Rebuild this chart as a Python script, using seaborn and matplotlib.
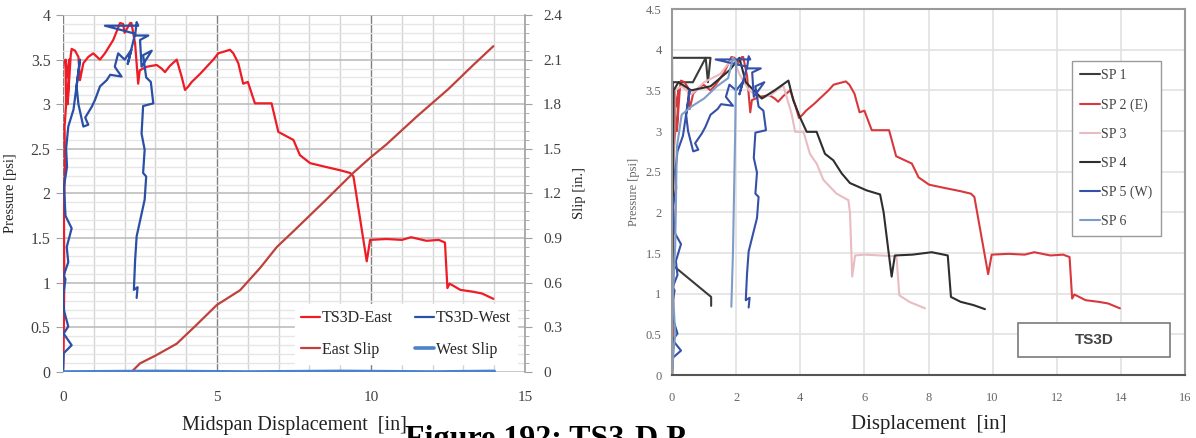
import matplotlib
matplotlib.use("Agg")
import matplotlib.pyplot as plt
import seaborn as sns
import pandas as pd
from matplotlib.ticker import MultipleLocator
from matplotlib.patches import Rectangle

# ---- data ----
# TS3D-East / SP 2 (E): pressure [psi] vs midspan displacement [in]
east_x = [0, 0.02, 0.04, 0.03, 0.06, 0.05, 0.1, 0.08, 0.12, 0.2, 0.15, 0.25, 0.28, 0.39,
          0.5, 0.55, 0.66, 0.82, 0.98, 1.2, 1.36, 1.63, 1.85, 1.95, 2.0, 2.18, 2.22, 2.34,
          2.44, 2.49, 2.72, 3.04, 3.2, 3.31, 3.47, 3.69, 3.85, 3.96, 4.07, 4.18, 4.45,
          4.88, 5.04, 5.42, 5.53, 5.69, 5.85, 6.0, 6.23, 6.77, 6.99, 7.37, 7.48, 7.69,
          8.02, 8.5, 9.0, 9.32, 9.43, 9.86, 9.97, 10.5, 11.0, 11.3, 11.8, 12.2, 12.4,
          12.48, 12.55, 12.9, 13.3, 13.6, 13.97]
east_p = [0, 0.3, 1.0, 1.8, 2.3, 2.75, 3.0, 3.5, 3.3, 3.5, 3.0, 3.55, 3.62, 3.6,
          3.53, 3.27, 3.46, 3.53, 3.57, 3.5, 3.57, 3.72, 3.91, 3.9, 3.8, 3.91, 3.91, 3.68,
          3.23, 3.38, 3.42, 3.44, 3.4, 3.36, 3.43, 3.5, 3.31, 3.16, 3.2, 3.25, 3.34,
          3.5, 3.57, 3.61, 3.57, 3.46, 3.23, 3.25, 3.01, 3.01, 2.69, 2.62, 2.6, 2.43,
          2.34, 2.3, 2.26, 2.23, 2.19, 1.24, 1.48, 1.49, 1.48, 1.51, 1.47, 1.48, 1.45,
          0.94, 0.99, 0.92, 0.9, 0.88, 0.82]

# TS3D-West / SP 5 (W)
west_x = [0, 0.02, 0.28, 0.02, 0.17, 0.03, 0.0, 0.08, 0.02, 0.17, 0.12, 0.28, 0.08, 0.03,
          0.13, 0.1, 0.17, 0.34, 0.55, 0.44, 0.5, 0.66, 0.82, 0.72, 0.93, 1.04, 1.2, 1.42,
          1.53, 1.9, 1.68, 1.79, 2.0, 2.22, 2.1, 2.34, 1.36, 2.44, 2.39, 2.34, 2.77, 2.5,
          2.55, 2.88, 2.6, 2.7, 2.85, 2.93, 2.6, 2.55, 2.65, 2.6, 2.7, 2.65, 2.39, 2.34,
          2.3, 2.42, 2.39]
west_p = [0, 0.21, 0.3, 0.43, 0.51, 0.69, 0.85, 1.04, 1.08, 1.23, 1.4, 1.61, 1.75, 2.08,
          2.3, 2.5, 2.75, 2.94, 3.5, 3.2, 3.0, 2.75, 2.77, 2.85, 2.97, 3.05, 3.2, 3.27,
          3.33, 3.31, 3.42, 3.57, 3.5, 3.61, 3.45, 3.79, 3.88, 3.88, 3.92, 3.77, 3.77, 3.72,
          3.42, 3.6, 3.55, 3.3, 3.25, 3.01, 2.98, 2.67, 2.49, 2.23, 2.19, 1.93, 1.52, 1.25,
          0.92, 0.95, 0.83]

# slips [in.]
east_slip_x = [0, 2.22, 2.5, 3.0, 3.69, 4.3, 4.99, 5.75, 6.4, 6.94, 7.5, 8.5, 9.43, 9.97,
               10.5, 11.5, 12.5, 13.3, 13.97]
east_slip = [0, 0, 0.058, 0.11, 0.19, 0.31, 0.45, 0.55, 0.7, 0.84, 0.95, 1.15, 1.34, 1.44,
             1.53, 1.72, 1.9, 2.06, 2.19]
west_slip_x = [0, 3, 6, 9, 12, 14]
west_slip = [0.0, 0.004, 0.0, 0.004, 0.0, 0.004]

# other string pots (right panel)
sp1_x = [0, 0.02, 0.65, 1.05, 1.12, 1.2, 0.0, 0.02, 1.22, 1.22]
sp1_p = [0, 3.6, 3.6, 3.9, 3.6, 3.9, 3.9, 1.35, 0.96, 0.85]
sp3_x = [0, 0.05, 0.08, 0.3, 0.6, 1.0, 1.5, 1.9, 2.1, 2.4, 2.8, 3.1, 3.47, 3.73, 3.84,
         4.1, 4.3, 4.51, 4.72, 5.13, 5.5, 5.55, 5.62, 5.71, 6.0, 6.5, 7.0, 7.09, 7.4, 7.89]
sp3_p = [0, 2.0, 3.5, 3.55, 3.45, 3.6, 3.7, 3.9, 3.7, 3.5, 3.4, 3.45, 3.56, 3.21, 2.99,
         2.99, 2.72, 2.6, 2.4, 2.23, 2.15, 2.0, 1.21, 1.47, 1.48, 1.47, 1.46, 0.98, 0.9, 0.82]
sp4_x = [0, 0.05, 0.2, 0.6, 1.2, 1.8, 2.1, 2.3, 2.8, 3.2, 3.63, 3.78, 3.99, 4.2, 4.51,
         4.77, 5.03, 5.29, 5.55, 6.07, 6.49, 6.6, 6.85, 6.95, 7.5, 8.1, 8.6, 8.7, 9.0, 9.4, 9.76]
sp4_p = [0, 3.5, 3.6, 3.5, 3.55, 3.75, 3.9, 3.6, 3.4, 3.5, 3.62, 3.38, 3.17, 2.99, 2.99,
         2.72, 2.64, 2.48, 2.36, 2.27, 2.22, 2.0, 1.21, 1.47, 1.48, 1.51, 1.47, 0.96, 0.9, 0.86, 0.81]
sp6_x = [0, 0.05, 0.1, 0.03, 0.1, 0.15, 0.3, 0.6, 1.0, 1.4, 1.75, 1.9, 2.0, 1.97, 1.9, 1.85]
sp6_p = [0, 0.3, 0.5, 1.0, 1.6, 2.8, 3.2, 3.3, 3.4, 3.55, 3.65, 3.9, 3.85, 3.0, 1.5, 0.84]

left_labels = ["TS3D-East", "TS3D-West", "East Slip", "West Slip"]
right_labels = ["SP 1", "SP 2 (E)", "SP 3", "SP 4", "SP 5 (W)", "SP 6"]

sns.set_style("white")
plt.rcParams["font.family"] = ["Liberation Serif", "DejaVu Serif"]

fig = plt.figure(figsize=(11.96, 4.38), dpi=100)


def draw(ax, x, y, color, label, lw=1.6, z=2):
    df = pd.DataFrame({"x": x, "y": y})
    sns.lineplot(data=df, x="x", y="y", ax=ax, sort=False, estimator=None,
                 color=color, lw=lw, label=label, zorder=z)


# ---------------- left panel ----------------
ax = fig.add_axes([0.0527, 0.1507, 0.3863, 0.8151])
ax2 = ax.twinx()
draw(ax, east_x, east_p, "#ee1c25", left_labels[0], z=3)
draw(ax, west_x, west_p, "#2a4fa6", left_labels[1], z=3)
draw(ax2, east_slip_x, east_slip, "#c0413c", left_labels[2])
draw(ax2, west_slip_x, west_slip, "#4a82cc", left_labels[3], lw=2.6)

ax.set_xlim(0, 15)
ax.set_ylim(0, 4)
ax2.set_ylim(0, 2.4)
ax.xaxis.set_major_locator(MultipleLocator(5))
ax.xaxis.set_minor_locator(MultipleLocator(1))
ax.yaxis.set_major_locator(MultipleLocator(0.5))
ax.yaxis.set_minor_locator(MultipleLocator(0.1))
ax2.yaxis.set_major_locator(MultipleLocator(0.3))
ax2.yaxis.set_minor_locator(MultipleLocator(0.06))
ax.yaxis.set_major_formatter(lambda v, p: f"{v:g}")
ax2.yaxis.set_major_formatter(lambda v, p: f"{v:g}")

ax.grid(True, which="minor", axis="x", color="#d4d4d4", lw=1.0)
ax.grid(True, which="major", axis="x", color="#808080", lw=1.0)
ax.grid(True, which="minor", axis="y", color="#e6e6e6", lw=1.0)
ax.grid(True, which="major", axis="y", color="#bdbdbd", lw=1.2)
ax.set_axisbelow(True)
for a in (ax, ax2):
    for s in ["top", "bottom", "left"]:
        a.spines[s].set_visible(False)
ax.spines["right"].set_visible(False)
ax2.spines["right"].set_color("#a0a0a0")
ax2.spines["right"].set_linewidth(1.2)
ax.tick_params(axis="x", which="both", length=0, labelsize=11, colors="#404040", pad=14)
ax.tick_params(axis="y", which="major", length=5, color="#a0a0a0", labelsize=11.5,
               colors="#404040", pad=4)
ax.tick_params(axis="y", which="minor", length=0)
ax2.tick_params(axis="y", which="major", length=5, color="#a0a0a0", labelsize=11,
                labelcolor="#404040", pad=8)
ax2.tick_params(axis="y", which="minor", length=3, color="#a0a0a0")
ax.set_xlabel("Midspan Displacement  [in]", fontsize=14.5, color="#222222", labelpad=8)
ax.set_ylabel("Pressure [psi]", fontsize=10.5, color="#222222", labelpad=10)
ax2.set_ylabel("Slip [in.]", fontsize=10.5, color="#222222", labelpad=8)

# the x = 0 grid line is a light one in the reference, only 5 and 10 are dark
fig.canvas.draw()
ax.xaxis.get_gridlines()[0].set_color("#d4d4d4")

h1, l1 = ax.get_legend_handles_labels()
h2, l2 = ax2.get_legend_handles_labels()
ax.get_legend().remove()
ax2.get_legend().remove()
ax2.legend([h1[0], h2[0], h1[1], h2[1]], [l1[0], l2[0], l1[1], l2[1]], ncol=2,
           loc="lower right", bbox_to_anchor=(1.0, 0.0), frameon=True, fancybox=False,
           framealpha=1, edgecolor="white", fontsize=11.5, handlelength=1.2,
           handletextpad=0.1, columnspacing=1.4, labelspacing=0.95, borderpad=0.4)

# ---------------- right panel ----------------
bx = fig.add_axes([0.5619, 0.1438, 0.4289, 0.8356])
right_series = [(sp1_x, sp1_p, "#3b3b3b"), (east_x, east_p, "#d8383c"),
                (sp3_x, sp3_p, "#e8bcc0"), (sp4_x, sp4_p, "#2e2e2e"),
                (west_x, west_p, "#3450a8"), (sp6_x, sp6_p, "#7d9cc7")]
for (xs, ps, c), lab in zip(right_series, right_labels):
    draw(bx, xs, ps, c, lab, lw=1.5)
bx.set_xlim(0, 16)
bx.set_ylim(0, 4.5)
bx.xaxis.set_major_locator(MultipleLocator(2))
bx.xaxis.set_minor_locator(MultipleLocator(0.4))
bx.yaxis.set_major_locator(MultipleLocator(0.5))
bx.yaxis.set_major_formatter(lambda v, p: f"{v:g}")
bx.grid(True, which="major", color="#e2e2e2", lw=1.2)
for s in bx.spines.values():
    s.set_color("#9a9a9a")
    s.set_linewidth(1.5)
bx.spines["bottom"].set_color("#555555")
bx.tick_params(axis="both", which="major", length=4, color="#9a9a9a", labelsize=9,
               labelcolor="#666666", direction="out")
bx.tick_params(axis="x", which="minor", length=2, color="#777777", direction="in")
bx.tick_params(axis="x", pad=8)
bx.set_xlabel("Displacement  [in]", fontsize=15, color="#222222", labelpad=8)
bx.set_ylabel("Pressure [psi]", fontsize=9, color="#666666", labelpad=4)
bx.legend(loc="upper left", bbox_to_anchor=(0.766, 0.877), frameon=True, fancybox=False,
          framealpha=1, edgecolor="#9a9a9a", fontsize=10, handlelength=1.4,
          handletextpad=0.1, labelspacing=1.15, borderpad=0.6, labelcolor="#444444")
bx.add_patch(Rectangle((0.674, 0.049), 0.297, 0.093, transform=bx.transAxes,
                       fill=True, facecolor="white", edgecolor="#7a7a7a", lw=1.2, zorder=5))
bx.text(0.8225, 0.0955, "TS3D", transform=bx.transAxes, ha="center", va="center",
        fontsize=11, fontweight="bold", family=["Liberation Sans", "DejaVu Sans"],
        color="#444444", zorder=6)

# caption, cut off at the bottom edge as in the reference
fig.text(0.339, 0.03, "Figure 192: TS3-D P", fontsize=23, fontweight="bold",
         color="black", va="top", ha="left")

fig.savefig("out.png", dpi=100)
